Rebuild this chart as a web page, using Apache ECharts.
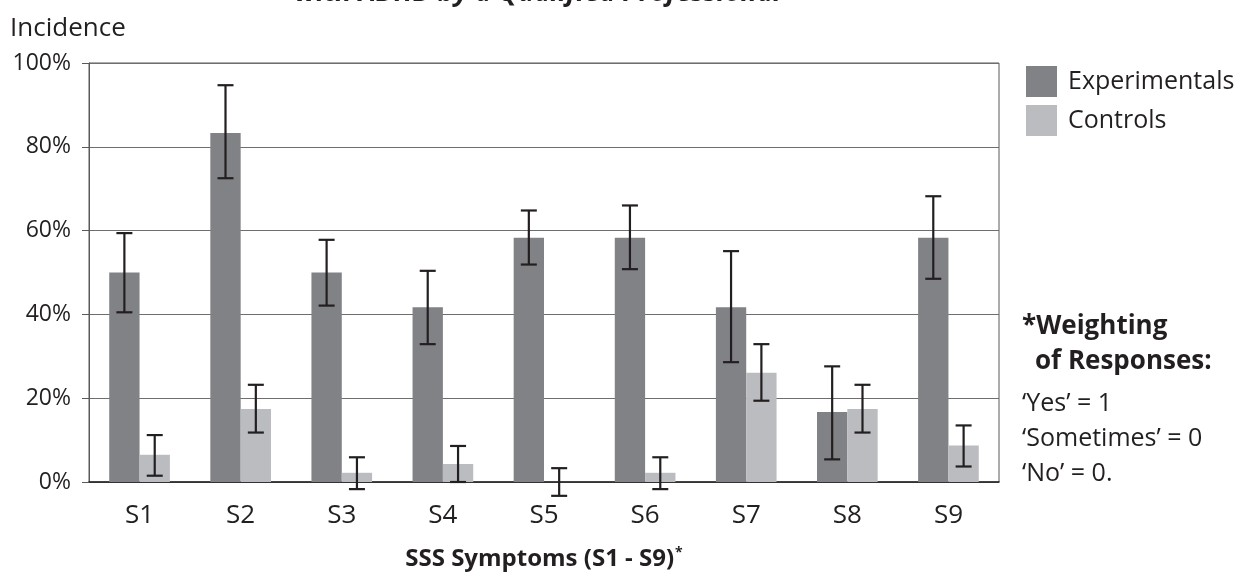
<!DOCTYPE html>
<html>
<head>
<meta charset="utf-8">
<script src="https://cdn.jsdelivr.net/npm/echarts@6/dist/echarts.min.js"></script>
<style>
html,body{margin:0;padding:0;background:#fff;}
#chart{width:1246px;height:581px;}
</style>
</head>
<body>
<div id="chart"></div>
<script>
const categories = ['S1','S2','S3','S4','S5','S6','S7','S8','S9'];
const yTicks = [0,20,40,60,80,100];
const expValues = [50, 83.3, 50, 41.7, 58.3, 58.3, 41.7, 16.7, 58.3];
const expHigh   = [59.4, 94.7, 57.8, 50.4, 64.8, 66.0, 55.1, 27.6, 68.2];
const expLow    = [40.5, 72.5, 42.1, 32.9, 51.9, 50.8, 28.6, 5.4, 48.5];
const ctrlValues = [6.5, 17.4, 2.2, 4.3, 0, 2.2, 26.1, 17.4, 8.7];
const ctrlHigh   = [11.2, 23.2, 5.9, 8.6, 3.3, 5.9, 32.9, 23.2, 13.5];
const ctrlLow    = [1.5, 11.8, -1.7, 0, -3.3, -1.7, 19.4, 11.8, 3.7];

const INK = '#231f20';
const EXP = '#818286';
const CTRL = '#bbbcc0';
const sans = '"Open Sans","Noto Sans",sans-serif';

function errSeries(name, lows, highs, sign){
  return {
    type: 'custom',
    name: name,
    clip: false,
    z: 10,
    silent: true,
    data: categories.map((c,i)=>[i, lows[i], highs[i]]),
    renderItem: function(params, api){
      const i = api.value(0);
      const pLo = api.coord([i, api.value(1)]);
      const pHi = api.coord([i, api.value(2)]);
      const band = api.size([1,0])[0];
      const x = pLo[0] + sign*band*0.15;
      const hw = 8;
      const st = {stroke: INK, lineWidth: 2.2};
      return {type:'group', children:[
        {type:'line', shape:{x1:x, y1:pLo[1], x2:x, y2:pHi[1]}, style:st},
        {type:'line', shape:{x1:x-hw, y1:pLo[1], x2:x+hw, y2:pLo[1]}, style:st},
        {type:'line', shape:{x1:x-hw, y1:pHi[1], x2:x+hw, y2:pHi[1]}, style:st}
      ]};
    }
  };
}

const chart = echarts.init(document.getElementById('chart'), null, {renderer:'canvas'});
chart.setOption({
  animation: false,
  backgroundColor: '#fff',
  grid: {left: 89, right: 247, top: 63, bottom: 99, show: true, borderColor: '#58595b', borderWidth: 1},
  legend: {
    orient: 'vertical', left: 1021, top: 61,
    itemWidth: 31, itemHeight: 31, itemGap: 8,
    icon: 'rect',
    data: ['Experimentals','Controls'],
    textStyle: {fontFamily: sans, fontSize: 25, color: INK, padding:[0,0,0,6]},
    selectedMode: false
  },
  xAxis: {
    type: 'category',
    data: categories,
    axisLine: {lineStyle: {color: INK, width: 1.5}},
    axisTick: {length: 9, lineStyle: {color: '#58595b'}},
    axisLabel: {fontFamily: sans, fontSize: 26, color: INK, margin: 21},
    name: '{a|SSS Symptoms (S1 - S9)}{b|*}',
    nameLocation: 'middle',
    nameGap: 64,
    nameTextStyle: {
      rich: {
        a: {fontFamily: sans, fontSize: 24, fontWeight: 'bold', color: INK},
        b: {fontFamily: sans, fontSize: 14, fontWeight: 'bold', color: INK, verticalAlign: 'top', padding:[0,0,12,1]}
      }
    }
  },
  yAxis: {
    type: 'value', min: 0, max: 100, interval: 20,
    axisLine: {show: true, lineStyle: {color: '#58595b'}},
    axisTick: {show: true, length: 7, lineStyle: {color: '#58595b'}},
    axisLabel: {fontFamily: sans, fontSize: 23, color: INK, margin: 18,
      formatter: v => yTicks.indexOf(v) >= 0 ? v + '%' : ''},
    splitLine: {lineStyle: {color: '#6d6e71', width: 1}}
  },
  series: [
    {type:'bar', name:'Experimentals', data: expValues, barWidth:'30%', barGap:'0%', itemStyle:{color: EXP}},
    {type:'bar', name:'Controls', data: ctrlValues, barWidth:'30%', barGap:'0%', itemStyle:{color: CTRL}},
    errSeries('expErr', expLow, expHigh, -1),
    errSeries('ctrlErr', ctrlLow, ctrlHigh, 1)
  ],
  graphic: [
    {type:'text', left: 10, top: 16, style:{text:'Incidence', font:'26px "Open Sans"', fill: INK}},
    {type:'text', x: 538, y: -6.5, style:{text:'with ADHD by a Qualified Professional', font:'italic bold 27px "Open Sans"', fill: INK, align:'center', verticalAlign:'middle'}},
    {type:'text', x: 1022, y: 327, style:{text:'*Weighting', font:'bold 26px "Open Sans"', fill: INK, verticalAlign:'middle'}},
    {type:'text', x: 1035, y: 362, style:{text:'of Responses:', font:'bold 26px "Open Sans"', fill: INK, verticalAlign:'middle'}},
    {type:'text', x: 1022, y: 404, style:{text:'\u2018Yes\u2019 = 1', font:'25px "Open Sans"', fill: INK, verticalAlign:'middle'}},
    {type:'text', x: 1022, y: 439, style:{text:'\u2018Sometimes\u2019 = 0', font:'25px "Open Sans"', fill: INK, verticalAlign:'middle'}},
    {type:'text', x: 1022, y: 474, style:{text:'\u2018No\u2019 = 0.', font:'25px "Open Sans"', fill: INK, verticalAlign:'middle'}}
  ]
});
</script>
</body>
</html>
